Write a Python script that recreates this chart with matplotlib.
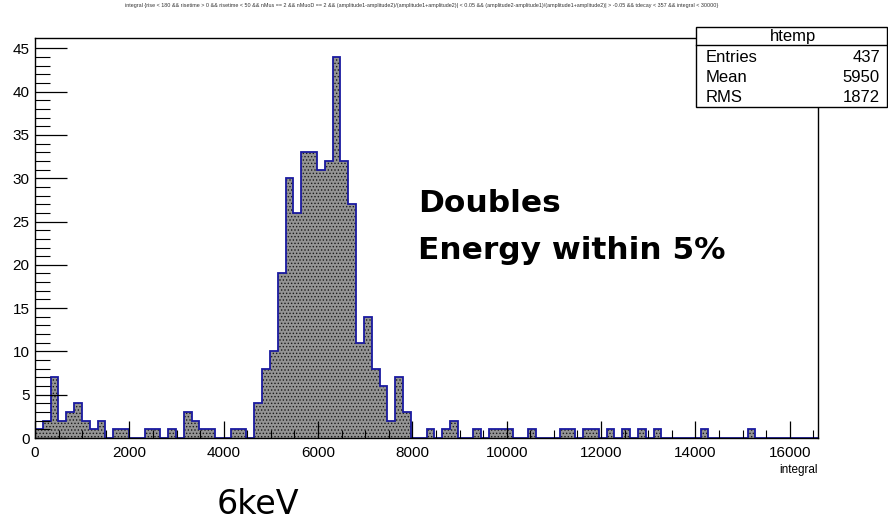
import numpy as np
import matplotlib
matplotlib.use("Agg")
import matplotlib.pyplot as plt
from matplotlib.patches import Rectangle
from matplotlib.lines import Line2D

plt.rcParams['font.family'] = ['Liberation Sans', 'DejaVu Sans']
plt.rcParams['hatch.linewidth'] = 0.6

# ---- data ----
x_min = 0
x_max = 16600
n_bins = 100
counts = [
    1, 2, 7, 2, 3, 4, 2, 1, 2, 0,
    1, 1, 0, 0, 1, 1, 0, 1, 0, 3,
    2, 1, 1, 0, 0, 1, 1, 0, 4, 8,
    10, 19, 30, 26, 33, 33, 31, 32, 44, 32,
    27, 11, 14, 8, 6, 2, 7, 3, 0, 0,
    1, 0, 1, 2, 0, 0, 1, 0, 1, 1,
    1, 0, 0, 1, 0, 0, 0, 1, 1, 0,
    1, 1, 0, 1, 0, 1, 0, 1, 0, 1,
    0, 0, 0, 0, 0, 1, 0, 0, 0, 0,
    0, 1, 0, 0, 0, 0, 0, 0, 0, 0,
]
x_ticks = [0, 2000, 4000, 6000, 8000, 10000, 12000, 14000, 16000]
y_ticks = [0, 5, 10, 15, 20, 25, 30, 35, 40, 45]
stats_labels = ["Entries", "Mean", "RMS"]
stats_values = ["437", "5950", "1872"]
hist_name = "htemp"
x_title = "integral"
title = ("integral {rise < 180 && risetime > 0 && risetime < 50 && nMus == 2 && nMuoD == 2 && "
         "(amplitude1-amplitude2)/(amplitude1+amplitude2)| < 0.05 && "
         "(amplitude2-amplitude1)/(amplitude1+amplitude2)| > -0.05 && tdecay < 357 && integral < 30000}")
note_line1 = "Doubles"
note_line2 = "Energy within 5%"
energy_label = "6keV"

edges = np.linspace(x_min, x_max, n_bins + 1)
counts = np.array(counts)

W, H = 888, 520
fig = plt.figure(figsize=(W / 100, H / 100), dpi=100)
left, right, top, bottom = 35, 818, 38, 438
ax = fig.add_axes([left / W, 1 - bottom / H, (right - left) / W, (bottom - top) / H])

ax.stairs(counts, edges, fill=True, facecolor='#949494', edgecolor='#1a1a1a',
          hatch='.....', linewidth=0)
ax.stairs(counts, edges, fill=False, color='#1a1aa0', linewidth=1.3, baseline=0)

ax.set_xlim(x_min, x_max)
ax.set_ylim(0, 1.05 * counts.max())
ax.set_xticks(x_ticks)
ax.set_xticklabels([str(t) for t in x_ticks])
ax.set_yticks(y_ticks)
ax.set_xticks(np.arange(0, x_max + 1, 500), minor=True)
ax.set_yticks(np.arange(0, 46, 1), minor=True)
ax.tick_params(axis='x', which='major', direction='in', length=12, width=0.9, labelsize=11, pad=6)
ax.tick_params(axis='x', which='minor', direction='in', length=6, width=0.8)
ax.tick_params(axis='y', which='major', direction='in', length=23, width=0.9, labelsize=11, pad=4)
ax.tick_params(axis='y', which='minor', direction='in', length=11, width=0.8)
ax.tick_params(top=False, right=False, which='both')
for s in ax.spines.values():
    s.set_linewidth(1.0)
    s.set_color('black')
ax.set_xlabel(x_title, loc='right', fontsize=8.5, labelpad=3)

# title
fig.text(422 / W, 1 - 6 / H, title, ha='center', va='center', fontsize=3.85, color='#333333')

# stats box
bx0, bx1, by0, by1, bdiv = 696, 887, 27, 107, 45
fig.patches.append(Rectangle((bx0 / W, 1 - by1 / H), (bx1 - bx0) / W, (by1 - by0) / H,
                             transform=fig.transFigure, facecolor='white',
                             edgecolor='black', linewidth=1.0, zorder=5))
fig.lines.append(Line2D([bx0 / W, bx1 / W], [1 - bdiv / H, 1 - bdiv / H],
                        transform=fig.transFigure, color='black', linewidth=1.0, zorder=6))
fig.text(793 / W, 1 - 36 / H, hist_name, ha='center', va='center',
         fontsize=12, zorder=7)
for i, (lab, val) in enumerate(zip(stats_labels, stats_values)):
    yy = 1 - (58 + 19.5 * i) / H
    fig.text(706 / W, yy, lab, ha='left', va='center', fontsize=12, zorder=7)
    fig.text(880 / W, yy, val, ha='right', va='center', fontsize=12, zorder=7)

# annotations
fig.text(418 / W, 1 - 212 / H, note_line1, ha='left', va='baseline', fontsize=22.5,
         fontweight='bold', family=['DejaVu Sans'])
fig.text(418 / W, 1 - 259 / H, note_line2, ha='left', va='baseline', fontsize=22.5,
         fontweight='bold', family=['DejaVu Sans'])
fig.text(258 / W, 1 - 504 / H, energy_label, ha='center', va='center', fontsize=24,
         family=['DejaVu Sans'])

fig.savefig("out.png", dpi=100)
